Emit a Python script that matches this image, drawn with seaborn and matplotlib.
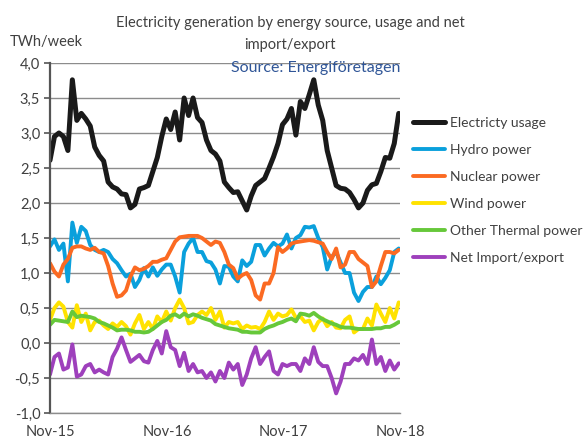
import numpy as np
import pandas as pd
import matplotlib
matplotlib.use("Agg")
import matplotlib.pyplot as plt
import matplotlib.dates as mdates
import seaborn as sns

# biweekly readings, Nov 2015 -> Nov 2018 (TWh/week)
usage = [2.61, 2.95, 3.0, 2.95, 2.75, 3.76, 3.18, 3.28, 3.2, 3.1,
         2.8, 2.68, 2.6, 2.3, 2.23, 2.2, 2.13, 2.12, 1.93, 1.98,
         2.2, 2.22, 2.25, 2.45, 2.65, 2.95, 3.2, 3.05, 3.3, 2.9,
         3.5, 3.25, 3.5, 3.22, 3.15, 2.9, 2.75, 2.7, 2.6, 2.3,
         2.22, 2.15, 2.16, 2.03, 1.9, 2.1, 2.25, 2.3, 2.35, 2.5,
         2.66, 2.85, 3.12, 3.2, 3.35, 2.97, 3.45, 3.35, 3.55, 3.76,
         3.4, 3.18, 2.75, 2.5, 2.25, 2.21, 2.2, 2.15, 2.05, 1.93,
         2.0, 2.18, 2.26, 2.28, 2.45, 2.65, 2.64, 2.85, 3.28]
hydro = [1.38, 1.48, 1.33, 1.42, 0.88, 1.72, 1.43, 1.66, 1.6, 1.4,
         1.33, 1.3, 1.33, 1.3, 1.2, 1.14, 1.04, 0.95, 0.99, 0.8,
         0.9, 1.07, 0.95, 1.08, 0.96, 1.05, 1.12, 1.12, 0.95, 0.72,
         1.3, 1.42, 1.5, 1.3, 1.3, 1.17, 1.15, 1.05, 0.85, 1.1,
         1.09, 0.95, 0.88, 1.18, 1.1, 1.16, 1.4, 1.4, 1.25, 1.35,
         1.43, 1.38, 1.42, 1.55, 1.35, 1.5, 1.54, 1.66, 1.65, 1.67,
         1.5, 1.37, 1.05, 1.23, 1.3, 1.15, 1.0, 1.0, 0.72, 0.6,
         0.73, 0.8, 0.8, 0.95, 0.84, 0.93, 1.04, 1.3, 1.35]
nuclear = [1.14, 1.02, 0.95, 1.12, 1.2, 1.36, 1.38, 1.38, 1.35, 1.33,
           1.36, 1.3, 1.28, 1.1, 0.85, 0.66, 0.68, 0.75, 0.95, 1.08,
           1.04, 1.06, 1.1, 1.16, 1.16, 1.19, 1.21, 1.33, 1.45, 1.51,
           1.52, 1.53, 1.53, 1.53, 1.5, 1.45, 1.4, 1.45, 1.43, 1.3,
           1.12, 1.07, 0.92, 0.97, 1.0, 0.9, 0.68, 0.62, 0.85, 0.85,
           1.0, 1.37, 1.3, 1.35, 1.42, 1.44, 1.45, 1.46, 1.47, 1.46,
           1.44, 1.42, 1.3, 1.2, 1.35, 1.08, 1.12, 1.3, 1.3, 1.2,
           1.15, 1.1, 0.8, 0.88, 1.1, 1.3, 1.3, 1.28, 1.33]
wind = [0.33, 0.5, 0.58, 0.52, 0.3, 0.22, 0.54, 0.3, 0.42, 0.18,
        0.3, 0.32, 0.25, 0.2, 0.28, 0.23, 0.3, 0.24, 0.12, 0.28,
        0.4, 0.2, 0.3, 0.2, 0.38, 0.3, 0.45, 0.32, 0.5, 0.62,
        0.5, 0.28, 0.3, 0.4, 0.45, 0.4, 0.5, 0.33, 0.45, 0.22,
        0.3, 0.28, 0.3, 0.2, 0.25, 0.22, 0.23, 0.2, 0.3, 0.45,
        0.33, 0.42, 0.38, 0.4, 0.48, 0.36, 0.38, 0.3, 0.32, 0.18,
        0.3, 0.35, 0.24, 0.3, 0.22, 0.21, 0.33, 0.38, 0.15, 0.2,
        0.2, 0.35, 0.25, 0.55, 0.42, 0.3, 0.5, 0.35, 0.58]
thermal = [0.26, 0.33, 0.32, 0.31, 0.3, 0.45, 0.37, 0.39, 0.38, 0.37,
           0.35, 0.3, 0.28, 0.25, 0.22, 0.18, 0.19, 0.19, 0.18, 0.16,
           0.16, 0.15, 0.16, 0.2, 0.25, 0.3, 0.33, 0.39, 0.41, 0.37,
           0.42, 0.38, 0.41, 0.39, 0.36, 0.34, 0.32, 0.27, 0.25, 0.23,
           0.21, 0.2, 0.19, 0.16, 0.16, 0.15, 0.15, 0.15, 0.2, 0.23,
           0.25, 0.28, 0.3, 0.33, 0.35, 0.31, 0.42, 0.41, 0.39, 0.43,
           0.38, 0.34, 0.31, 0.28, 0.26, 0.23, 0.22, 0.22, 0.21, 0.2,
           0.2, 0.2, 0.2, 0.21, 0.21, 0.23, 0.23, 0.26, 0.3]
net = [-0.45, -0.2, -0.15, -0.38, -0.35, -0.02, -0.48, -0.45, -0.33, -0.3,
       -0.42, -0.38, -0.42, -0.45, -0.2, -0.08, 0.08, -0.1, -0.27, -0.22,
       -0.17, -0.26, -0.28, -0.1, 0.03, -0.15, 0.17, -0.06, -0.1, -0.33,
       -0.14, -0.4, -0.3, -0.42, -0.4, -0.5, -0.42, -0.55, -0.4, -0.5,
       -0.28, -0.38, -0.3, -0.6, -0.45, -0.22, -0.06, -0.3, -0.2, -0.12,
       -0.4, -0.45, -0.3, -0.33, -0.3, -0.3, -0.4, -0.22, -0.3, -0.06,
       -0.27, -0.33, -0.33, -0.5, -0.72, -0.55, -0.3, -0.3, -0.22, -0.25,
       -0.17, -0.3, 0.05, -0.3, -0.2, -0.4, -0.25, -0.38, -0.29]

labels = ["Electricty usage", "Hydro power", "Nuclear power",
          "Wind power", "Other Thermal power", "Net Import/export"]
colors = ["#1a1a1a", "#0aa0dc", "#fb6a22", "#ffe200", "#66c83a", "#9e40bc"]
widths = [3.6, 2.8, 2.8, 2.8, 2.8, 2.8]

dates = pd.date_range("2015-11-01", periods=len(usage), freq="14D")
df = pd.DataFrame({"date": dates})
for lab, vals in zip(labels, [usage, hydro, nuclear, wind, thermal, net]):
    df[lab] = vals

sns.set_style("white")
plt.rcParams["font.family"] = ["Lato", "DejaVu Sans"]
txt = "#404040"

fig = plt.figure(figsize=(5.84, 4.38), dpi=100)
ax = fig.add_axes([50 / 584, 25 / 438, 350 / 584, 350 / 438])

for lab, c, w in zip(labels, colors, widths):
    sns.lineplot(data=df, x="date", y=lab, ax=ax, color=c, linewidth=w,
                 label=lab, solid_joinstyle="round")

ax.set_ylim(-1.0, 4.0)
ax.set_xlim(pd.Timestamp("2015-11-01"), pd.Timestamp("2018-11-01"))
ax.set_yticks(np.arange(-1.0, 4.01, 0.5))
ax.set_yticklabels([f"{v:.1f}".replace(".", ",") for v in np.arange(-1.0, 4.01, 0.5)])
ax.xaxis.set_major_locator(mdates.MonthLocator(bymonth=11))
ax.xaxis.set_major_formatter(mdates.DateFormatter("%b-%y"))
ax.grid(axis="y", color="#8c8c8c", linewidth=1.0)
ax.set_axisbelow(True)
ax.set_xlabel("")
ax.set_ylabel("")
for s in ["top", "right"]:
    ax.spines[s].set_visible(False)
ax.spines["left"].set_color("#555555")
ax.spines["left"].set_linewidth(1.6)
ax.spines["bottom"].set_color("#8c8c8c")
ax.spines["bottom"].set_linewidth(1.0)
ax.tick_params(axis="y", length=4, width=1.2, color="#555555", labelsize=10.5,
               labelcolor=txt, pad=3, left=True)
ax.tick_params(axis="x", length=0, labelsize=10.5, labelcolor=txt, pad=9)

ax.legend(loc="upper left", bbox_to_anchor=(413 / 584, (438 - 117) / 438),
          bbox_transform=fig.transFigure, frameon=False, fontsize=10,
          labelcolor=txt, handlelength=2.3, handletextpad=0.4,
          labelspacing=1.08, borderpad=0, borderaxespad=0)

fig.text(290 / 584, 1 - 34 / 438,
         "Electricity generation by energy source, usage and net\nimport/export",
         ha="center", va="center", fontsize=10.5, color=txt, linespacing=1.75)
fig.text(10 / 584, 1 - 42 / 438, "TWh/week", ha="left", va="center",
         fontsize=10.5, color=txt)
fig.text(400 / 584, 1 - 68 / 438, "Source: Energiföretagen", ha="right",
         va="center", fontsize=11.5, color="#2f5597")

fig.savefig("out.png", dpi=100)
